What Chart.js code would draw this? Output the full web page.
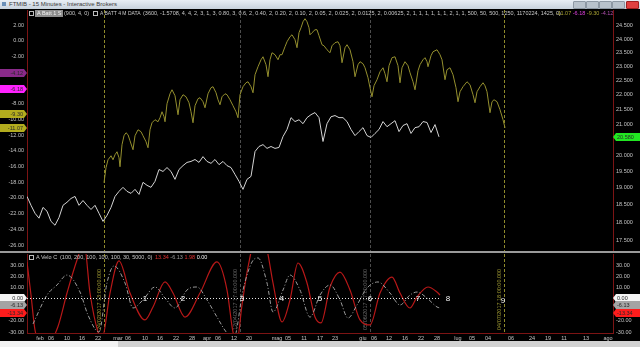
<!DOCTYPE html>
<html>
<head>
<meta charset="utf-8">
<script src="https://cdn.jsdelivr.net/npm/chart.js@4.4.1/dist/chart.umd.min.js"></script>
<style>
  body { margin: 0; background: #000; width: 640px; height: 347px; overflow: hidden; position: relative;
         font-family: "Liberation Sans", Arial, sans-serif; }
  .abs { position: absolute; white-space: nowrap; }
  #titlebar { left: 0; top: 0; width: 640px; height: 9px; background: linear-gradient(#e8eef5, #c8d2dd);
              font-size: 6px; line-height: 9px; color: #3a3a3a; }
  .btn { top: 1px; width: 11px; height: 6px; background: #b8c2cc; border: 1px solid #8d98a4; border-radius: 1px; }
  .hdr { font-size: 5.5px; line-height: 7px; color: #c8c8c8; }
  .ico { width: 3px; height: 3px; border: 1px solid #bbb; }
  #sep { left: 0; top: 251px; width: 640px; height: 2px; background: #9a9a9a; }
  #scroll { left: 0; top: 341px; width: 640px; height: 6px; background: #d2d2d2; }
  #scroll div { position: absolute; left: 0; top: 0; width: 118px; height: 6px; background: #f2f2f2; }
</style>
</head>
<body>
<div id="titlebar" class="abs">
  <span style="position:absolute;left:2px;top:2px;width:4px;height:4px;background:#6a8fb8"></span>
  <span style="position:absolute;left:9px">FTMIB - 15 Minutes - Interactive Brokers</span>
</div>
<div class="abs btn" style="left:573px"></div>
<div class="abs btn" style="left:586px"></div>
<div class="abs btn" style="left:599px"></div>
<div class="abs btn" style="left:612px"></div>
<div class="abs btn" style="left:626px;background:#e04040;border-color:#a02020"></div>

<canvas id="main" class="abs" width="640" height="241" style="left:0;top:10px"></canvas>
<div id="sep" class="abs"></div>
<canvas id="osc" class="abs" width="640" height="94" style="left:0;top:253px"></canvas>
<div id="scroll" class="abs"><div></div></div>

<!-- main panel header -->
<div class="abs ico" style="left:29px;top:11px"></div>
<div class="abs hdr" style="left:35px;top:10px;background:#8e8e8e;color:#f2f2f2;padding:0 2px">A Batt 1 S</div>
<div class="abs hdr" style="left:64px;top:10px">(900, 4, 0)</div>
<div class="abs ico" style="left:93px;top:11px"></div>
<div class="abs hdr" style="left:100px;top:10px;font-size:5px">A BATT 4 M DATA</div>
<div class="abs hdr" style="left:143px;top:10px">(3600, -1.5708, 4, 4, 2, 3, 1, 3, 0.80, 3, 0.6, 2, 0.40, 2, 0.20, 2, 0.10, 2, 0.05, 2, 0.025, 2, 0.0125, 2, 0.00625, 2, 1, 1, 1, 1, 1, 1, 2, 1, 1, 500, 50, 500, 1250, 1170224, 1425, 0)</div>
<div class="abs hdr" style="left:556px;top:10px">
  <span style="color:#a8a232">-11.07</span>
  <span style="color:#e040e0">-6.18</span>
  <span style="color:#a8a232">-9.30</span>
  <span style="color:#b050b0">-4.12</span>
</div>

<!-- oscillator header -->
<div class="abs ico" style="left:29px;top:255px"></div>
<div class="abs hdr" style="left:36px;top:254px">A Velo C</div>
<div class="abs hdr" style="left:60px;top:254px">(100, 200, 100, 100, 100, 30, 5000, 0)</div>
<div class="abs hdr" style="left:155px;top:254px">
  <span style="color:#e03030">13.34</span>
  <span style="color:#9a9a9a">-6.13</span>
  <span style="color:#e03030">1.98</span>
  <span style="color:#f0f0f0">0.00</span>
</div>

<script>
// ---- data (x in trading days from the left edge of the plot) ----
const leftTicks = [2, 0, -2, -4, -6, -8, -10, -12, -14, -16, -18, -20, -22, -24, -26];
const rightTicks = [17.5, 18, 18.5, 19, 19.5, 20, 20.5, 21, 21.5, 22, 22.5, 23, 23.5, 24, 24.5];
const oscTicks = [30, 20, 10, 0, -10, -20, -30];

const xTickDays = [3.25, 6, 10, 13.75, 17.75, 22.75, 25.25, 29.5, 33.25, 37.25, 41.25, 45, 47.75, 51.75, 55.5,
  62.5, 65.25, 69.25, 73.25, 77, 84, 86.75, 90.5, 94.5, 98.5, 102.5, 107.75, 111.25, 115.25, 121,
  126.25, 130.25, 134.25, 139.75, 145.25];
const xTickLabels = ['feb', '06', '10', '16', '22', 'mar', '06', '10', '16', '22', '28', 'apr', '06', '12', '20',
  'mag', '05', '11', '17', '23', 'giu', '06', '12', '16', '22', '28', 'lug', '05', '04', '06',
  '24', '19', '11', '13', 'ago'];

// FTMIB price, one value per trading day from day 0
const priceValues = [
  18.74, 18.48, 18.25, 18.11, 18.42, 18.31, 18.02, 17.91, 18.13, 18.48,
  18.57, 18.68, 18.74, 18.48, 18.62, 18.48, 18.36, 18.48, 18.25, 18.02,
  18.19, 18.42, 18.74, 18.89, 19.01, 18.89, 18.83, 18.95, 18.80, 19.16,
  19.07, 19.01, 19.19, 19.55, 19.49, 19.61, 19.49, 19.25, 19.55, 19.67,
  19.77, 19.80, 19.86, 19.77, 19.95, 19.80, 19.74, 19.86, 19.70, 19.80,
  19.67, 19.61, 19.40, 19.19, 18.95, 19.25, 19.34, 20.11, 20.27, 20.33,
  20.21, 20.27, 20.21, 20.24, 20.59, 20.82, 21.21, 21.08, 21.14, 21.01,
  21.21, 21.31, 21.38, 21.21, 20.43, 21.01, 21.24, 21.28, 21.21, 21.21,
  21.08, 20.82, 20.62, 20.75, 20.88, 20.62, 20.56, 20.69, 20.82, 21.08,
  20.91, 21.01, 21.11, 20.75, 20.95, 21.01, 20.69, 20.88, 20.91, 21.08,
  21.05, 20.72, 20.98, 20.58
];

// A BATT 4 M DATA
const battDays = [
  19.25, 19.75, 20.25, 21, 21.5, 22, 22.5, 23, 23.25, 23.75, 24.25, 24.75, 25.25, 25.75, 26.5, 27, 27.75, 28.5, 29,
  29.75, 30.25, 30.75, 31.25, 32, 32.75, 33.25, 33.75, 34.25, 34.5, 35, 35.75, 36.25, 37, 37.75, 38.25, 39, 39.75,
  40.5, 41, 41.5, 42, 42.75, 43.25, 44, 44.5, 45.25, 46, 46.5, 47.25, 47.75, 48.25, 48.75, 49.5, 50, 50.75, 51.5,
  52.25, 52.75, 53.25, 54, 54.75, 55.25, 56, 56.5, 57, 57.75, 58.5, 59, 59.75, 60.25, 60.75, 61.25, 62, 62.75,
  63.25, 63.75, 64.5, 65, 65.75, 66.25, 67, 67.5, 68, 68.5, 69, 69.5, 70, 70.5, 70.75, 71.25, 72, 72.5, 73, 73.75,
  74.25, 75, 75.75, 76.25, 77, 77.75, 78.25, 78.75, 79.5, 80, 80.75, 81.5, 82, 82.75, 83.25, 84, 84.5, 85.25,
  85.75, 86.25, 86.75, 87.5, 88.25, 89, 89.5, 90, 90.5, 91.25, 92, 92.75, 93.25, 93.75, 94.5, 95.25, 95.75, 96.5,
  97, 97.75, 98.25, 99, 99.5, 100, 100.25, 101, 101.5, 102.5, 103.25, 103.75, 104.5, 105, 105.75, 106.5, 107.25,
  107.75, 108.25, 109, 110, 110.75, 111.5, 112, 112.5, 113.25, 114, 114.5, 115, 115.75, 116.25, 116.75, 117.5,
  118.25, 119, 119.5
];
const battValues = [
  -18.07, -16.16, -15.15, -14.64, -15.15, -14.51, -14.13, -14.89, -16.04, -13.24, -12.09, -11.71, -11.96, -12.73,
  -13.87, -12.09, -11.33, -11.58, -12.09, -12.85, -13.62, -11.33, -10.44, -10.05, -10.31, -9.80, -9.04, -9.67,
  -10.31, -8.02, -6.75, -6.24, -7.00, -9.42, -7.51, -6.87, -7.13, -7.89, -9.04, -10.44, -8.27, -7.38, -7.25,
  -7.76, -8.53, -6.75, -5.98, -5.85, -6.62, -7.51, -8.15, -7.13, -6.75, -6.87, -7.51, -8.27, -9.04, -9.80,
  -6.87, -5.85, -5.35, -5.22, -5.85, -6.62, -4.33, -3.31, -2.42, -2.04, -3.05, -4.58, -2.42, -1.53, -1.78,
  -2.42, -1.78, -1.78, -0.76, -0.13, 0.51, 0.76, 0.13, -0.89, 1.02, 1.65, 2.42, 2.80, 2.42, 1.65, 0.76, 1.02,
  1.40, 1.40, 0.64, -0.51, -0.64, -1.15, -1.53, -0.64, -0.25, -0.13, -0.64, -2.80, -0.89, -0.51, -1.15, -2.67,
  -4.58, -3.05, -2.67, -2.93, -3.44, -4.71, -5.98, -7.13, -5.73, -4.96, -3.95, -3.44, -4.20, -5.22, -3.18,
  -2.16, -2.04, -3.18, -5.35, -3.44, -2.67, -3.18, -4.07, -5.22, -6.24, -3.82, -3.05, -2.42, -2.16, -2.67,
  -3.31, -1.91, -1.40, -1.15, -1.78, -2.42, -4.96, -3.69, -3.44, -4.33, -5.98, -7.76, -6.49, -5.85, -5.22,
  -5.60, -6.87, -7.89, -6.49, -5.85, -5.35, -5.73, -6.49, -9.16, -7.76, -7.51, -7.76, -8.78, -10.05, -11.07
];

// A Velo C oscillator
const redDays = [0, 1, 2, 4.5, 7.75, 10, 12.5, 14.25, 15.75, 17.75, 18.75, 20.75, 23, 25.75, 29.5, 31.5, 34.5,
  36.5, 39.5, 43.25, 47.5, 50, 51.5, 52.5, 53.75, 55.25, 57.75, 60, 61.5, 63.75, 65.75, 67.75, 70, 72, 73.5,
  75.75, 78.25, 80.75, 83.25, 85.75, 88.25, 91.25, 93.25, 95.75, 97.5, 100.25, 102.5, 103.25];
const redValues = [32.7, 3.1, -28.2, -45, -25, 4.9, 34.5, 50, 4.9, -30, -36, 4.9, 33.6, 4.9, -19.2, -7.6, 14.8,
  4.9, -16.6, 4.9, 32.7, 7.6, -30, -38, -5.8, 28.2, 60, 43.4, 13.9, -21, -1.3, 31.8, 13.9, -16.6, -21.9,
  10.3, 23.7, 7.6, -19.2, -23.7, 4.9, 19.2, 4.9, -8.5, 1.3, 10.3, 5.8, 3.1];
const grayDays = [1.5, 5, 7.5, 10, 13.25, 15.25, 18, 20, 21.75, 24.5, 26.5, 29, 32, 34.5, 37, 40, 42.5, 45, 47.5,
  50, 51.75, 54, 56.25, 57.75, 60, 61.5, 64, 65.75, 68.25, 70.75, 73.25, 75.75, 78.25, 80.25, 82.5, 85,
  87.75, 90.75, 93.25, 95.75, 97.5, 100, 102.5, 103.25];
const grayValues = [-22.8, 3.1, 12.1, 21.0, 5.8, -14.8, -30, 13.9, 29.1, 13.9, -8.5, -1.3, 10.3, 0.4, -8.5, 7.6,
  10.3, -1.3, -16.6, -30.9, -35, 7.6, 32.7, 36.3, 13.9, -12.1, 7.6, 21.0, 7.6, -16.6, 3.1, 12.1, -1.3, -17.5,
  -5.8, 9.4, 14.8, 4.9, -5.8, 3.1, 5.8, 0.4, -7.6, -8.5];
const zeroLineDays = [0, 103.25];

const markerDays = [29.5, 39, 53.75, 63.75, 73.25, 85.75, 97.75, 105.25, 119];
const markerLabels = ['1', '2', '3', '4', '5', '6', '7', '8', '9'];

const vLineDays = [19.25, 53.25, 85.75, 119.25];
const vLineColors = ['#8f8a2c', '#4c4c4c', '#4c4c4c', '#8f8a2c'];
const vLineTexts = ['24/02/2017 13:00:00.000', '12/04/2017 17:00:00.000', '05/06/2017 17:00:00.000', '04/07/2017 18:00:00.000'];

const mainTags = [
  { axis: 'yL', value: -4.12, text: '-4.12', bg: '#8a2a8a', side: 'left' },
  { axis: 'yL', value: -6.18, text: '-6.18', bg: '#ff22ff', side: 'left' },
  { axis: 'yL', value: -9.30, text: '-9.30', bg: '#b2ac1e', side: 'left' },
  { axis: 'yL', value: -11.07, text: '-11.07', bg: '#b2ac1e', side: 'left' },
  { axis: 'yR', value: 20.58, text: '20.580', bg: '#22e622', side: 'right' }
];
const oscTags = [];
[['0.00', 0, '#f4f4f4'], ['-6.13', -6.13, '#a4a4a4'], ['-13.34', -13.34, '#ff1c1c']].forEach(([t, v, c]) => {
  oscTags.push({ axis: 'yL', value: v, text: t, bg: c, side: 'left' });
  oscTags.push({ axis: 'yR', value: v, text: t, bg: c, side: 'right' });
});

// ---- helpers ----
const FONT = '"Liberation Sans", Arial, sans-serif';
const labelColor = '#c4c4c4';
const borderRed = '#7c1414';

Chart.defaults.font.family = FONT;
Chart.defaults.font.size = 5.5;
Chart.defaults.animation = false;

const pairs = (xs, ys) => xs.map((x, i) => ({ x: x, y: ys[i] }));
const fixTicks = list => scale => { scale.ticks = list.map(v => ({ value: v })); };
// keep the plot area flush with the canvas edges (no room for overhanging labels)
const noPad = s => { s.paddingTop = 0; s.paddingBottom = 0; s.paddingLeft = 0; s.paddingRight = 0; };

function yAxis(pos, min, max, ticks, fmt, extra) {
  return Object.assign({
    position: pos, min: min, max: max,
    afterBuildTicks: fixTicks(ticks),
    afterFit: s => { s.width = 27; noPad(s); },
    grid: { display: false, drawTicks: false },
    border: { display: true, color: borderRed, width: 1 },
    ticks: { color: labelColor, padding: 3, autoSkip: false, callback: fmt, font: { size: 5.5 } }
  }, extra || {});
}

function vLinePlugin(withText) {
  return {
    id: 'vlines',
    beforeDatasetsDraw(chart) {
      const { ctx, chartArea: a } = chart;
      const x = chart.scales.x;
      ctx.save();
      ctx.lineWidth = 1;
      vLineDays.forEach((d, i) => {
        const px = Math.round(x.getPixelForValue(d)) + 0.5;
        ctx.setLineDash([3, 2]);
        ctx.strokeStyle = vLineColors[i];
        ctx.beginPath();
        ctx.moveTo(px, a.top);
        ctx.lineTo(px, a.bottom);
        ctx.stroke();
        if (withText) {
          ctx.save();
          ctx.translate(px - 2, a.bottom - 3);
          ctx.rotate(-Math.PI / 2);
          ctx.font = '5.5px ' + FONT;
          ctx.fillStyle = i === 0 || i === 3 ? '#a49e34' : '#6a6a6a';
          ctx.textAlign = 'left';
          ctx.textBaseline = 'bottom';
          ctx.fillText(vLineTexts[i], 0, 0);
          ctx.restore();
        }
      });
      ctx.restore();
    }
  };
}

function tagPlugin(tags) {
  return {
    id: 'tags',
    afterDraw(chart) {
      const { ctx, chartArea: a } = chart;
      ctx.save();
      ctx.font = '5.5px ' + FONT;
      ctx.textBaseline = 'middle';
      tags.forEach(t => {
        const y = Math.round(chart.scales[t.axis].getPixelForValue(t.value));
        ctx.fillStyle = t.bg;
        ctx.beginPath();
        if (t.side === 'left') {
          ctx.moveTo(0, y - 4); ctx.lineTo(24, y - 4); ctx.lineTo(27, y); ctx.lineTo(24, y + 4); ctx.lineTo(0, y + 4);
        } else {
          ctx.moveTo(a.right, y); ctx.lineTo(a.right + 3, y - 4); ctx.lineTo(640, y - 4); ctx.lineTo(640, y + 4); ctx.lineTo(a.right + 3, y + 4);
        }
        ctx.closePath();
        ctx.fill();
        ctx.fillStyle = '#2a2a2a';
        ctx.textAlign = t.side === 'left' ? 'right' : 'left';
        ctx.fillText(t.text, t.side === 'left' ? 23 : a.right + 4, y + 0.5);
      });
      ctx.restore();
    }
  };
}

const markerPlugin = {
  id: 'markers',
  afterDatasetsDraw(chart) {
    const { ctx } = chart;
    const x = chart.scales.x, y = chart.scales.yL;
    ctx.save();
    ctx.font = '8px ' + FONT;
    ctx.fillStyle = '#f4f4f4';
    ctx.textAlign = 'center';
    ctx.textBaseline = 'middle';
    markerDays.forEach((d, i) => {
      ctx.fillText(markerLabels[i], x.getPixelForValue(d), y.getPixelForValue(0) + (i === 8 ? 2 : 0));
    });
    ctx.restore();
  }
};

// ---- main panel ----
new Chart(document.getElementById('main'), {
  type: 'line',
  data: {
    datasets: [
      {
        data: pairs(battDays, battValues), yAxisID: 'yL',
        borderColor: '#948f2e', borderWidth: 1, pointRadius: 0, tension: 0
      },
      {
        data: priceValues.map((v, i) => ({ x: i, y: v })), yAxisID: 'yR',
        borderColor: '#d4d4d4', borderWidth: 1, pointRadius: 0, tension: 0
      }
    ]
  },
  options: {
    responsive: false,
    devicePixelRatio: 1,
    layout: { padding: 0 },
    plugins: { legend: { display: false }, tooltip: { enabled: false } },
    scales: {
      x: { type: 'linear', display: false, min: 0, max: 146.5 },
      yL: yAxis('left', -26.76, 3.91, leftTicks, v => v.toFixed(2)),
      yR: yAxis('right', 17.22, 25.12, rightTicks, v => v.toFixed(3), { type: 'logarithmic' })
    }
  },
  plugins: [vLinePlugin(false), tagPlugin(mainTags)]
});

// ---- oscillator panel ----
new Chart(document.getElementById('osc'), {
  type: 'line',
  data: {
    datasets: [
      {
        data: zeroLineDays.map(d => ({ x: d, y: 0 })), yAxisID: 'yL',
        borderColor: '#e8e8e8', borderWidth: 1, borderDash: [1, 2], pointRadius: 0
      },
      {
        data: pairs(grayDays, grayValues), yAxisID: 'yL',
        borderColor: '#9c9c9c', borderWidth: 1, borderDash: [4, 2, 1, 2], pointRadius: 0,
        cubicInterpolationMode: 'monotone'
      },
      {
        data: pairs(redDays, redValues), yAxisID: 'yL',
        borderColor: '#b81818', borderWidth: 1.2, pointRadius: 0,
        cubicInterpolationMode: 'monotone'
      }
    ]
  },
  options: {
    responsive: false,
    devicePixelRatio: 1,
    layout: { padding: { top: 1 } },
    plugins: { legend: { display: false }, tooltip: { enabled: false } },
    scales: {
      x: {
        type: 'linear', min: 0, max: 146.5,
        afterBuildTicks: fixTicks(xTickDays),
        afterFit: s => { s.height = 14; noPad(s); },
        grid: { display: false, drawTicks: false },
        border: { display: true, color: borderRed, width: 1 },
        ticks: {
          color: labelColor, padding: 2, autoSkip: false, maxRotation: 0,
          callback: (v, i) => xTickLabels[i]
        }
      },
      yL: yAxis('left', -30.89, 39.84, oscTicks, v => v.toFixed(2)),
      yR: yAxis('right', -30.89, 39.84, oscTicks, v => v.toFixed(2))
    }
  },
  plugins: [vLinePlugin(true), markerPlugin, tagPlugin(oscTags)]
});
</script>
</body>
</html>
